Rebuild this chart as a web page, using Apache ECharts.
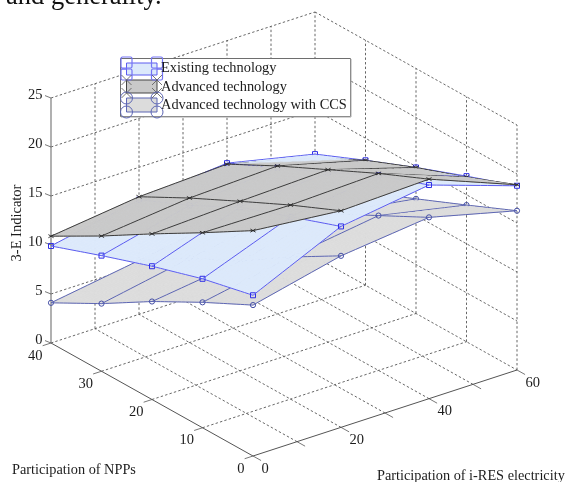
<!DOCTYPE html>
<html>
<head>
<meta charset="utf-8">
<style>html,body{margin:0;padding:0;background:#fff}#c{width:566px;height:482px}</style>
<script src="https://cdn.jsdelivr.net/npm/echarts@6/dist/echarts.min.js"></script>
</head>
<body>
<div id="c"></div>
<script>
// ---- data ----
const resLevels = [0, 20, 40, 60];
const nppLevels = [40, 30, 20, 10, 0];
// one row per i-RES level, values in nppLevels order
const existingRes0  = [9.9, 11.8, 13.6, 15.2, 16.4];
const existingRes20 = [11.7, 14.0, 16.7, 18.6, 20.5];
const existingRes40 = [12.5, 14.9, 17.3, 19.9, 21.8];
const existingRes60 = [10.5, 12.75, 14.9, 16.9, 18.8];
const advancedRes0  = [10.9, 13.8, 16.9, 19.9, 23.0];
const advancedRes20 = [12.0, 14.75, 17.3, 19.8, 22.1];
const advancedRes40 = [12.4, 15.1, 17.6, 20.1, 22.4];
const advancedRes60 = [10.1, 12.75, 14.9, 16.8, 18.9];
const ccsRes0  = [4.1, 6.9, 10.0, 12.8, 15.4];
const ccsRes20 = [5.5, 8.6, 11.2, 14.5, 17.5];
const ccsRes40 = [7.0, 10.0, 13.1, 15.8, 18.5];
const ccsRes60 = [7.2, 9.5, 11.7, 13.95, 16.25];
const seriesNames = ['Existing technology', 'Advanced technology', 'Advanced technology with CCS'];
const resTicks = [0, 10, 20, 30, 40, 50, 60];
const resLabels = [0, 20, 40, 60];
const nppTicks = [0, 10, 20, 30, 40];
const zTicks = [0, 5, 10, 15, 20, 25];

// ---- view of the 3-D box (orthographic) ----
const FONT = '"Liberation Serif","Times New Roman",serif';
const TXT = '#1c1c1c';
const RES_MAX = 60, NPP_MAX = 40, Z_MAX = 25;
function project(res, npp, z) {
  return [253 + res / RES_MAX * 264 - npp / NPP_MAX * 202,
          456 - res / RES_MAX * 86 - npp / NPP_MAX * 113 - z * 9.8];
}
const SUB = 12;
function surfaceItem(rows, i, j, s, t) {
  const r0 = resLevels[i], r1 = resLevels[Math.min(i + 1, 3)];
  const n0 = nppLevels[j], n1 = nppLevels[Math.min(j + 1, 4)];
  const zA = rows[i][j], zB = rows[Math.min(i + 1, 3)][j];
  const zC = rows[i][Math.min(j + 1, 4)], zD = rows[Math.min(i + 1, 3)][Math.min(j + 1, 4)];
  return {
    res: r0 + (r1 - r0) * s,
    npp: n0 + (n1 - n0) * t,
    z: zA * (1 - s) * (1 - t) + zB * s * (1 - t) + zC * (1 - s) * t + zD * s * t
  };
}
function makeSurfaceRender(rows, st) {
  return function (params, api) {
    const i = api.value(0), j = api.value(1);
    const children = [];
    const xy = (p) => api.coord(project(p.res, p.npp, p.z));
    const depth = (z, extra) => Math.round((z + st.bias + extra) * 1000);
    if (i < 3 && j < 4) {
      for (let a = 0; a < SUB; a++) for (let b = 0; b < SUB; b++) {
        const c = [[a, b], [a + 1, b], [a + 1, b + 1], [a, b + 1]]
          .map(q => surfaceItem(rows, i, j, q[0] / SUB, q[1] / SUB));
        const zm = (c[0].z + c[1].z + c[2].z + c[3].z) / 4;
        children.push({
          type: 'polygon', z2: depth(zm, 0), silent: true,
          shape: { points: c.map(xy) },
          style: { fill: st.face, stroke: st.face, lineWidth: 0.7 }
        });
      }
    }
    const seg = (f) => {
      for (let a = 0; a < SUB; a++) {
        const p = f(a / SUB), q = f((a + 1) / SUB);
        const P = xy(p), Q = xy(q);
        children.push({
          type: 'line', z2: depth((p.z + q.z) / 2, 0.4), silent: true,
          shape: { x1: P[0], y1: P[1], x2: Q[0], y2: Q[1] },
          style: { stroke: st.edge, lineWidth: 1 }
        });
      }
    };
    if (i < 3) seg(s => surfaceItem(rows, i, j, s, 0));
    if (j < 4) seg(t => surfaceItem(rows, i, j, 0, t));
    const node = surfaceItem(rows, i, j, 0, 0);
    const C = xy(node), mz = depth(node.z, 0.45);
    if (st.marker === 'square') {
      children.push({ type: 'rect', z2: mz, silent: true,
        shape: { x: C[0] - 2.5, y: C[1] - 2.5, width: 5, height: 5 },
        style: { fill: 'none', stroke: st.markerColor, lineWidth: 1 } });
    } else if (st.marker === 'circle') {
      children.push({ type: 'circle', z2: mz, silent: true,
        shape: { cx: C[0], cy: C[1], r: 2.6 },
        style: { fill: 'none', stroke: st.markerColor, lineWidth: 1 } });
    } else {
      [[-1, -0.6], [-1, 0.6]].forEach(d => children.push({ type: 'line', z2: mz, silent: true,
        shape: { x1: C[0] + d[0] * 2.6, y1: C[1] + d[1] * 2.6, x2: C[0] - d[0] * 2.6, y2: C[1] - d[1] * 2.6 },
        style: { stroke: st.markerColor, lineWidth: 0.9 } }));
    }
    return { type: 'group', children };
  };
}

function renderBox(params, api) {
  const ch = [];
  const pt = (r, n, z) => api.coord(project(r, n, z));
  const line = (A, B, stroke, w, dash) => ch.push({
    type: 'line', z2: -5000, silent: true,
    shape: { x1: A[0], y1: A[1], x2: B[0], y2: B[1] },
    style: { stroke, lineWidth: w, lineDash: dash || null }
  });
  const dash = (A, B) => line(A, B, '#565656', 0.9, [2.4, 2.2]);
  const label = (txt, x, y, align) => ch.push({
    type: 'text', z2: 10, silent: true,
    style: { text: String(txt), x, y, align: align || 'center', verticalAlign: 'middle', font: '14.5px ' + FONT, fill: TXT }
  });
  zTicks.forEach(z => {
    dash(pt(0, NPP_MAX, z), pt(RES_MAX, NPP_MAX, z));
    dash(pt(RES_MAX, NPP_MAX, z), pt(RES_MAX, 0, z));
  });
  resTicks.forEach(r => {
    if (r > 0) dash(pt(r, NPP_MAX, 0), pt(r, NPP_MAX, Z_MAX));
    if (r > 0 && r < RES_MAX) dash(pt(r, 0, 0), pt(r, NPP_MAX, 0));
  });
  nppTicks.forEach(n => {
    if (n < NPP_MAX) dash(pt(RES_MAX, n, 0), pt(RES_MAX, n, Z_MAX));
    if (n > 0 && n < NPP_MAX) dash(pt(0, n, 0), pt(RES_MAX, n, 0));
  });
  line(pt(0, NPP_MAX, 0), pt(0, NPP_MAX, Z_MAX), '#7c7c7c', 1.2);
  line(pt(0, 0, 0), pt(0, NPP_MAX, 0), '#555', 1);
  line(pt(0, 0, 0), pt(RES_MAX, 0, 0), '#555', 1);
  zTicks.forEach(z => {
    const A = pt(0, NPP_MAX, z);
    line(A, [A[0] - 6, A[1] - 2.4], '#555', 0.8);
    label(z, A[0] - 8.5, A[1] - 2.4, 'right');
  });
  nppTicks.forEach(n => {
    const A = pt(0, n, 0);
    line(A, pt(-1.9, n, 0), '#555', 0.8);
    label(n, A[0] - 8.5, A[1] + 12.8, 'right');
  });
  resTicks.forEach(r => {
    const A = pt(r, 0, 0);
    line(A, pt(r, -1.6, 0), '#555', 0.8);
    if (resLabels.indexOf(r) >= 0) label(r, A[0] + 8.5, A[1] + 13, 'left');
  });
  return { type: 'group', children: ch };
}

const styles = [
  { name: seriesNames[0], rows: [existingRes0, existingRes20, existingRes40, existingRes60], bias: 0,
    face: '#dce9fb', edge: '#5c5cf0', marker: 'square', markerColor: '#2f2fe6' },
  { name: seriesNames[1], rows: [advancedRes0, advancedRes20, advancedRes40, advancedRes60], bias: 0.3,
    face: '#c9c9c9', edge: '#3c3c3c', marker: 'x', markerColor: '#222' },
  { name: seriesNames[2], rows: [ccsRes0, ccsRes20, ccsRes40, ccsRes60], bias: 0,
    face: '#dcdcdc', edge: '#5d66b4', marker: 'circle', markerColor: '#4650a6' }
];
const cells = [];
resLevels.forEach((_, i) => nppLevels.forEach((__, j) => cells.push([i, j])));

// ---- legend pieces ----
const legendEls = [
  { type: 'rect', z: 50, silent: true, shape: { x: 120.5, y: 58.5, width: 230, height: 58 },
    style: { fill: '#fff', stroke: '#6e6e6e', lineWidth: 1 } },
  { type: 'line', z: 50, silent: true, shape: { x1: 351, y1: 59, x2: 351, y2: 117 }, style: { stroke: '#aaa', lineWidth: 1 } },
  { type: 'line', z: 50, silent: true, shape: { x1: 121, y1: 117, x2: 351, y2: 117 }, style: { stroke: '#aaa', lineWidth: 1 } }
];
const legendRows = [[63, 75], [80, 93], [98, 112]];
const legendText = [68.5, 87, 105.5];
styles.forEach((st, k) => {
  const yA = legendRows[k][0], yB = legendRows[k][1];
  legendEls.push({ type: 'rect', z: 51, silent: true, shape: { x: 126.5, y: yA, width: 30.5, height: yB - yA },
    style: { fill: st.face, stroke: k === 0 ? '#5c5cf0' : (k === 1 ? '#444' : '#5d66b4'), lineWidth: 1 } });
  if (k === 0) [[121, 126.5], [157, 162]].forEach(h => legendEls.push({ type: 'line', z: 52, silent: true,
    shape: { x1: h[0], y1: 69, x2: h[1], y2: 69 }, style: { stroke: '#5c5cf0', lineWidth: 1 } }));
  [[126.5, yA], [157, yA], [126.5, yB], [157, yB]].forEach(c => {
    if (k === 0) legendEls.push({ type: 'rect', z: 52, silent: true,
      shape: { x: c[0] - 5.5, y: c[1] - 6, width: 11, height: 11, r: 1.5 },
      style: { fill: 'none', stroke: '#7474f5', lineWidth: 1.2 } });
    if (k === 1) [[1, 1], [1, -1]].forEach(d => legendEls.push({ type: 'line', z: 52, silent: true,
      shape: { x1: c[0] - 5 * d[0], y1: c[1] - 5 * d[1], x2: c[0] + 5 * d[0], y2: c[1] + 5 * d[1] },
      style: { stroke: '#555', lineWidth: 0.8 } }));
    if (k === 2) legendEls.push({ type: 'circle', z: 52, silent: true,
      shape: { cx: c[0], cy: c[1], r: 6 }, style: { fill: 'none', stroke: '#5d66b4', lineWidth: 1 } });
  });
  legendEls.push({ type: 'text', z: 53, silent: true,
    style: { text: st.name, x: 161, y: legendText[k], verticalAlign: 'middle', font: '14.4px ' + FONT, fill: TXT } });
});

const chart = echarts.init(document.getElementById('c'), null, { renderer: 'canvas' });
chart.setOption({
  animation: false,
  backgroundColor: '#fff',
  tooltip: { show: false },
  grid: { left: 0, right: 0, top: 0, bottom: 0 },
  xAxis: { type: 'value', min: 0, max: 566, show: false },
  yAxis: { type: 'value', min: 0, max: 482, inverse: true, show: false },
  series: [
    { type: 'custom', name: 'box', silent: true, coordinateSystem: 'cartesian2d', clip: false, data: [[0, 0]], renderItem: renderBox }
  ].concat(styles.map(st => ({
    type: 'custom', name: st.name, silent: true, coordinateSystem: 'cartesian2d', clip: false,
    data: cells, renderItem: makeSurfaceRender(st.rows, st)
  }))),
  graphic: { elements: legendEls.concat([
    { type: 'text', silent: true, style: { text: 'and generality.', x: 6, y: 11, verticalAlign: 'bottom', font: '26.5px ' + FONT, fill: '#111' } },
    { type: 'text', silent: true, style: { text: 'Participation of NPPs', x: 12, y: 470, verticalAlign: 'middle', font: '14.3px ' + FONT, fill: TXT } },
    { type: 'text', silent: true, style: { text: 'Participation of i-RES electricity', x: 377, y: 476, verticalAlign: 'middle', font: '14.3px ' + FONT, fill: TXT } },
    { type: 'text', silent: true, rotation: Math.PI / 2, x: 17, y: 223,
      style: { text: '3-E Indicator', x: 0, y: 0, align: 'center', verticalAlign: 'middle', font: '14.5px ' + FONT, fill: TXT } }
  ]) }
});
</script>
</body>
</html>
